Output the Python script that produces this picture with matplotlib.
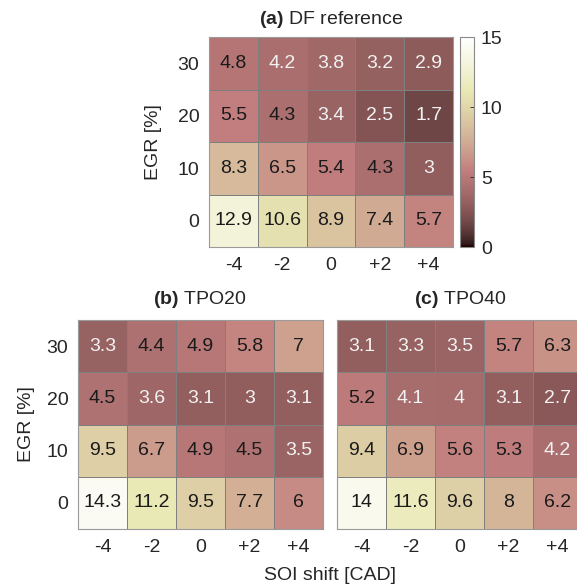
import numpy as np
import matplotlib
matplotlib.use("Agg")
import matplotlib.pyplot as plt

plt.rcParams['font.family'] = ['Liberation Sans', 'DejaVu Sans']
plt.rcParams['mathtext.fontset'] = 'custom'
plt.rcParams['mathtext.rm'] = 'Liberation Sans'
plt.rcParams['mathtext.bf'] = 'Liberation Sans:bold'

# SOI shift (columns) and EGR rate (rows, bottom to top)
soi_labels = ['-4', '-2', '0', '+2', '+4']
egr_labels = ['0', '10', '20', '30']

# rows ordered EGR 0, 10, 20, 30
df_ref = np.array([
    [12.9, 10.6, 8.9, 7.4, 5.7],
    [8.3, 6.5, 5.4, 4.3, 3.0],
    [5.5, 4.3, 3.4, 2.5, 1.7],
    [4.8, 4.2, 3.8, 3.2, 2.9],
])
tpo20 = np.array([
    [14.3, 11.2, 9.5, 7.7, 6.0],
    [9.5, 6.7, 4.9, 4.5, 3.5],
    [4.5, 3.6, 3.1, 3.0, 3.1],
    [3.3, 4.4, 4.9, 5.8, 7.0],
])
tpo40 = np.array([
    [14.0, 11.6, 9.6, 8.0, 6.2],
    [9.4, 6.9, 5.6, 5.3, 4.2],
    [5.2, 4.1, 4.0, 3.1, 2.7],
    [3.1, 3.3, 3.5, 5.7, 6.3],
])

vmin, vmax = 0, 15
W, H = 577, 587
fig = plt.figure(figsize=(W / 100, H / 100), dpi=100)


def px_axes(x0, y0, x1, y1):
    # axes from pixel box (top-left origin)
    return fig.add_axes([x0 / W, 1 - y1 / H, (x1 - x0) / W, (y1 - y0) / H])


def heat(ax, data, show_y):
    mesh = ax.pcolormesh(data, cmap='pink', vmin=vmin, vmax=vmax,
                         edgecolors='#7f7f7f', linewidth=0.6)
    for i in range(data.shape[0]):
        for j in range(data.shape[1]):
            v = data[i, j]
            col = '#f2f2f2' if v < 4.25 else '#1a1a1a'
            ax.text(j + 0.5, i + 0.5, f'{v:g}', ha='center', va='center',
                    fontsize=14, color=col)
    ax.set_xlim(0, data.shape[1])
    ax.set_ylim(0, data.shape[0])
    ax.set_xticks(np.arange(len(soi_labels)) + 0.5)
    ax.set_xticklabels(soi_labels)
    ax.set_yticks(np.arange(len(egr_labels)) + 0.5)
    if show_y:
        ax.set_yticklabels(egr_labels)
    else:
        ax.set_yticklabels([])
    ax.tick_params(length=0, labelsize=14, colors='#262626', pad=7)
    for s in ax.spines.values():
        s.set_color('#9a9a9a')
        s.set_linewidth(0.8)
    return mesh


ax_a = px_axes(209, 37, 453, 247)
mesh = heat(ax_a, df_ref, True)
ax_a.set_ylabel('EGR [%]', fontsize=14, color='#262626', labelpad=11)

cax = px_axes(460, 37, 474, 247)
cb = fig.colorbar(mesh, cax=cax, ticks=[0, 5, 10, 15])
cb.outline.set_edgecolor('#8a8a8a')
cb.outline.set_linewidth(0.8)
cax.tick_params(labelsize=14, colors='#262626', direction='in', length=3,
                width=0.6, pad=5)

ax_b = px_axes(78, 320, 323, 529)
heat(ax_b, tpo20, True)
ax_b.set_ylabel('EGR [%]', fontsize=14, color='#262626', labelpad=8)

ax_c = px_axes(337, 320, 582, 529)
heat(ax_c, tpo40, False)

fig.text(331 / W, 1 - 20 / H, r'$\bf{(a)}$ DF reference', ha='center',
         va='center', fontsize=14, color='#262626')
fig.text(200 / W, 1 - 299 / H, r'$\bf{(b)}$ TPO20', ha='center',
         va='center', fontsize=14, color='#262626')
fig.text(460 / W, 1 - 299 / H, r'$\bf{(c)}$ TPO40', ha='center',
         va='center', fontsize=14, color='#262626')
fig.text(330 / W, 1 - 575 / H, 'SOI shift [CAD]', ha='center',
         va='center', fontsize=14, color='#262626')

fig.savefig('out.png', dpi=100, facecolor='white')
